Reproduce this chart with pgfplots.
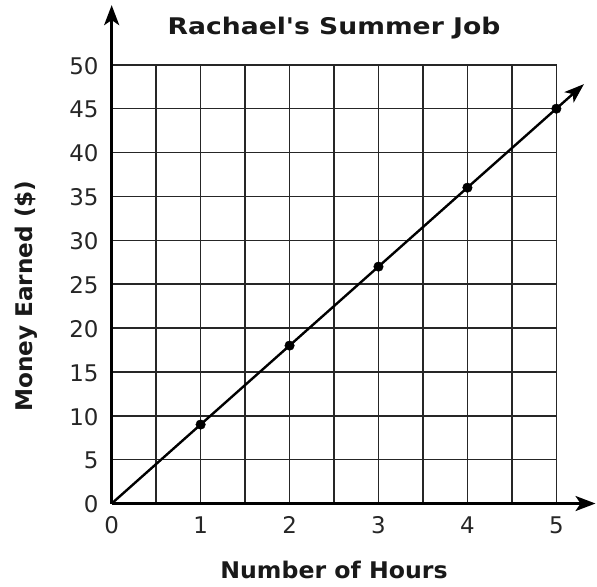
\documentclass[border=0pt]{standalone}
\usepackage{graphicx}
\usepackage{pgfplots}
\pgfplotsset{compat=1.18}
\usepackage{fontspec}
\setmainfont{DejaVu Sans}[Ligatures=TeXOff]
\usetikzlibrary{arrows.meta}
\begin{document}
\begin{tikzpicture}
\path (-112pt,-83pt) rectangle (485pt,505pt);
\begin{axis}[
  at={(0,0)}, anchor=south west,
  scale only axis, width=446pt, height=440pt,
  xmin=0, xmax=5, ymin=0, ymax=50,
  xtick={0,1,...,5}, minor xtick={0.5,1.5,...,4.5},
  ytick={0,5,...,50},
  grid=both,
  major grid style={black!85, line width=1.5pt},
  minor grid style={black!85, line width=1.5pt},
  axis line style={black!85, line width=1.5pt},
  major tick length=0pt, minor tick length=0pt,
  tick style={draw=none},
  ticklabel style={font=\fontsize{23}{26}\selectfont, text=black!85, inner sep=0pt},
  /pgf/number format/assume math mode=true,
  xticklabel style={anchor=base, yshift=-30pt},
  yticklabel style={anchor=east, xshift=-13pt, yshift=-1pt},
  clip=false,
]
\addplot[black, line width=2.4pt, -{Stealth[length=20pt,width=14pt,inset=5pt]}] coordinates {(0,0) (5.31,47.8)};
\addplot[only marks, mark=*, mark size=4.8pt, black] coordinates {(1,9) (2,18) (3,27) (4,36) (5,45)};
\draw[black, line width=3pt, -{Stealth[length=20pt,width=15pt,inset=5pt]}] (axis cs:0,0) -- (axis cs:5.44,0);
\draw[black, line width=3pt, -{Stealth[length=20pt,width=15pt,inset=5pt]}] (axis cs:0,0) -- (axis cs:0,56.8);
\end{axis}
\node[font=\bfseries\fontsize{23}{26}\selectfont, text=black!90, anchor=base] at (223pt,470pt) {\scalebox{1.16}[1]{Rachael's Summer Job}};
\node[font=\bfseries\fontsize{23}{26}\selectfont, text=black!90, anchor=base] at (223pt,-75pt) {\scalebox{1.03}[1]{Number of Hours}};
\node[font=\bfseries\fontsize{23}{26}\selectfont, text=black!90, rotate=90, anchor=base] at (-79pt,208pt) {\scalebox{1.01}[1]{Money Earned (\$)}};
\end{tikzpicture}
\end{document}
